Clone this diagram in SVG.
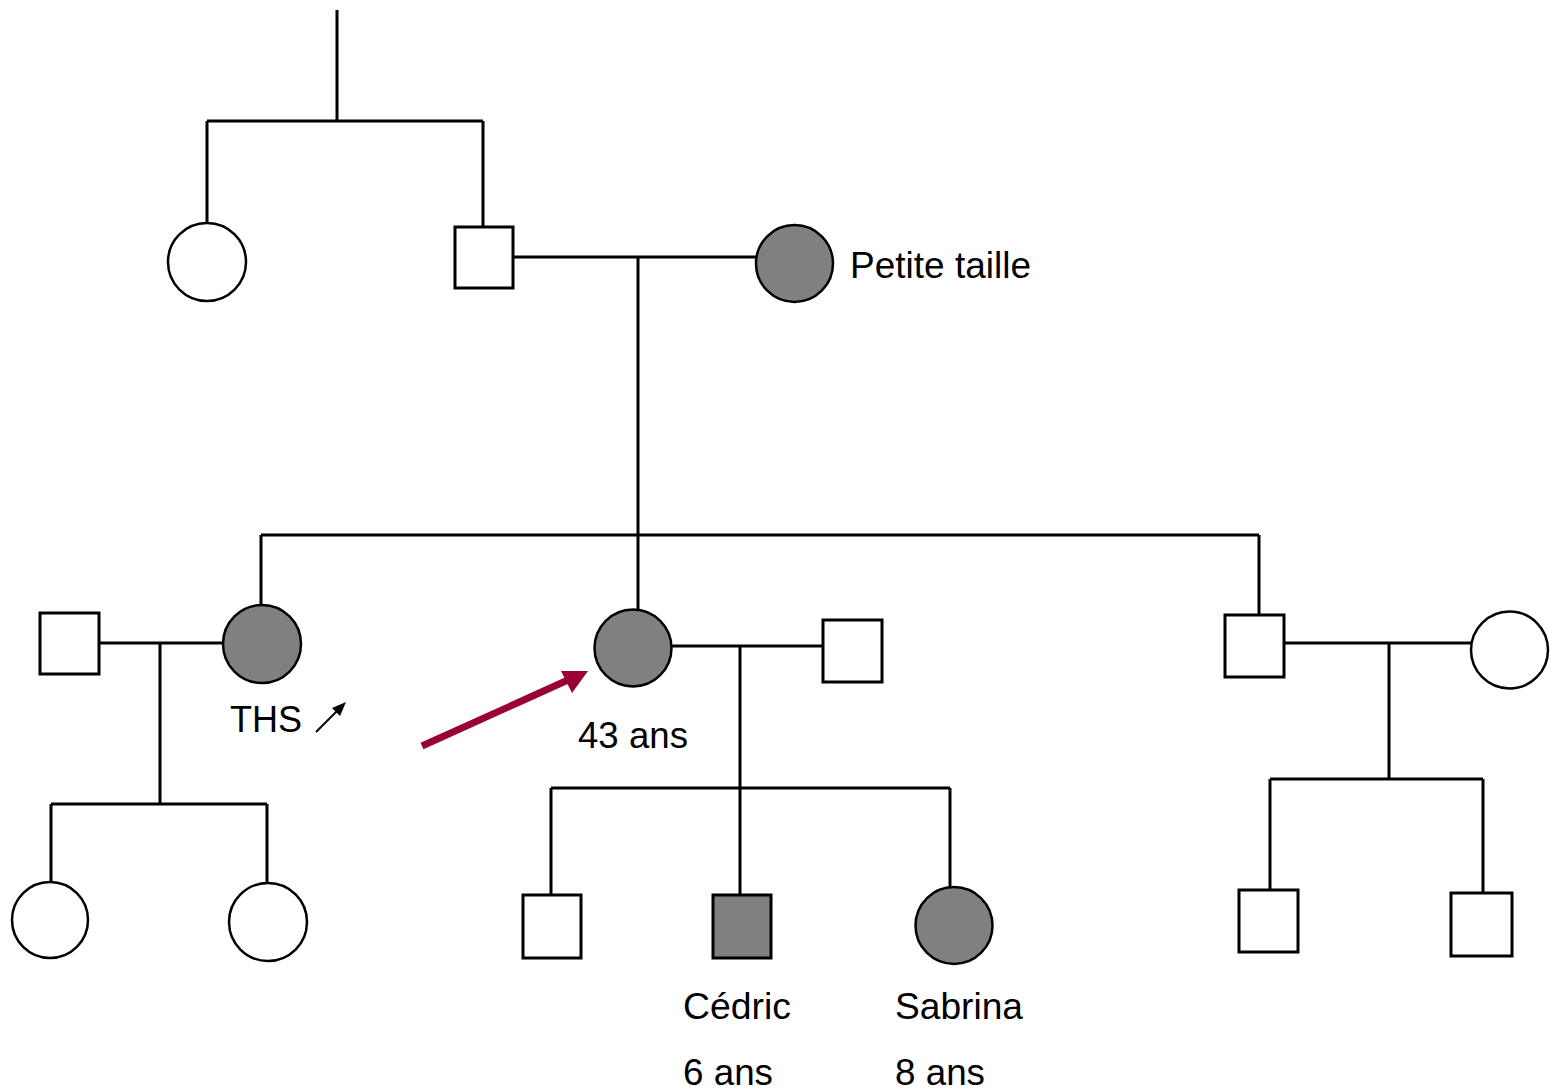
<svg xmlns="http://www.w3.org/2000/svg" width="1550" height="1092" viewBox="0 0 1550 1092">
<defs>
<style>
.ln{stroke:#000;stroke-width:3;fill:none}
.sq{stroke:#000;stroke-width:3;fill:#fff}
.ci{stroke:#000;stroke-width:2.5;fill:#fff}
.aff{fill:#808080}
.t{font-family:"Liberation Sans",Arial,sans-serif;font-size:36px;fill:#000}
</style>
</defs>
<rect width="1550" height="1092" fill="#fff"/>
<g id="connectors">
<path class="ln" d="M337,10 V121 M207,121 H483 M207,121 V223 M483,121 V227"/>
<path class="ln" d="M513,257 H756 M638,257 V535 M261,535 H1259 M261,535 V606 M638,535 V610 M1259,535 V615"/>
<path class="ln" d="M99,643 H224 M160,643 V804 M51,804 H267 M51,804 V882 M267,804 V883"/>
<path class="ln" d="M672,646 H823 M740,646 V788 M551,788 H950 M551,788 V895 M740,788 V895 M950,788 V887"/>
<path class="ln" d="M1284,643 H1471 M1389,643 V779 M1270,779 H1483 M1270,779 V890 M1483,779 V893"/>
<line x1="422" y1="746" x2="568" y2="680" stroke="#990033" stroke-width="7"/>
<polygon points="588,671 561,671 572,693" fill="#990033"/>
<line x1="316" y1="732" x2="338" y2="710" stroke="#000" stroke-width="2"/>
<polygon points="346,702 332,708 340,716" fill="#000"/>
</g>
<g id="gp-f"><circle class="ci" cx="207" cy="262" r="39"/></g>
<g id="gp-m"><rect class="sq" x="455" y="227" width="58" height="61"/></g>
<g id="gp-w"><circle class="ci aff" cx="794.5" cy="263.5" r="38.5"/><text class="t" x="850" y="278" textLength="181" lengthAdjust="spacingAndGlyphs">Petite taille</text></g>
<g id="ths-husband"><rect class="sq" x="40" y="613" width="59" height="61"/></g>
<g id="ths"><circle class="ci aff" cx="262" cy="644" r="39"/><text class="t" x="230" y="732" textLength="72" lengthAdjust="spacingAndGlyphs">THS</text></g>
<g id="ths-c1"><circle class="ci" cx="50" cy="920" r="38"/></g>
<g id="ths-c2"><circle class="ci" cx="268" cy="922" r="39"/></g>
<g id="proband"><circle class="ci aff" cx="633" cy="648" r="38.5"/><text class="t" x="578" y="748" textLength="110" lengthAdjust="spacingAndGlyphs">43 ans</text></g>
<g id="proband-husband"><rect class="sq" x="823" y="620" width="59" height="62"/></g>
<g id="child1"><rect class="sq" x="523" y="895" width="58" height="63"/></g>
<g id="cedric"><rect class="sq aff" x="713" y="895" width="58" height="63"/><text class="t" x="683" y="1019" textLength="108" lengthAdjust="spacingAndGlyphs">Cédric</text><text class="t" x="683" y="1085" textLength="90" lengthAdjust="spacingAndGlyphs">6 ans</text></g>
<g id="sabrina"><circle class="ci aff" cx="954" cy="925.5" r="38.5"/><text class="t" x="895" y="1019" textLength="128" lengthAdjust="spacingAndGlyphs">Sabrina</text><text class="t" x="895" y="1085" textLength="90" lengthAdjust="spacingAndGlyphs">8 ans</text></g>
<g id="brother"><rect class="sq" x="1225" y="615" width="59" height="62"/></g>
<g id="brother-wife"><circle class="ci" cx="1509.5" cy="650" r="38.5"/></g>
<g id="b-c1"><rect class="sq" x="1239" y="890" width="59" height="62"/></g>
<g id="b-c2"><rect class="sq" x="1451" y="893" width="61" height="63"/></g>
</svg>
